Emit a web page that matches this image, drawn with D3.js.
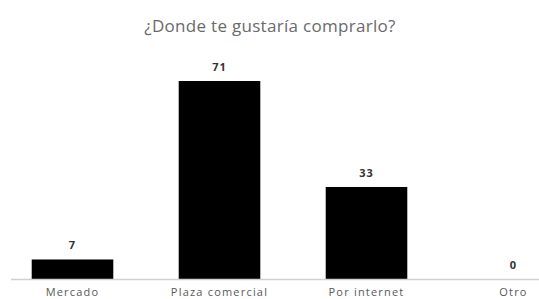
<!DOCTYPE html>
<html>
<head>
<meta charset="utf-8">
<script src="https://cdn.jsdelivr.net/npm/d3@7"></script>
<style>
  body { margin: 0; background: #fff; }
  text { font-family: "Open Sans", sans-serif; }
</style>
</head>
<body>
<div id="chart"></div>
<script>
const categories = ["Mercado", "Plaza comercial", "Por internet", "Otro"];
const values = [7, 71, 33, 0];
const title = "¿Donde te gustaría comprarlo?";

const width = 539, height = 299;
const baseline = 279;

const svg = d3.select("#chart")
  .append("svg")
    .attr("width", width)
    .attr("height", height);

const x = d3.scaleBand()
  .domain(categories)
  .range([-1, 587])
  .paddingInner(0.445)
  .paddingOuter(0.2225);

const y = d3.scaleLinear()
  .domain([0, 71])
  .range([baseline, 81]);

svg.append("text")
  .attr("x", 270)
  .attr("y", 32)
  .attr("text-anchor", "middle")
  .style("font-size", "17px")
  .style("letter-spacing", "0.3px")
  .style("fill", "#6a6a6a")
  .text(title);

svg.selectAll("rect.bar")
  .data(values)
  .enter()
  .append("rect")
    .attr("class", "bar")
    .attr("x", (d, i) => x(categories[i]))
    .attr("width", x.bandwidth())
    .attr("y", d => y(d))
    .attr("height", d => baseline - y(d))
    .attr("fill", "#000");

// axis line
svg.append("line")
  .attr("x1", 11)
  .attr("x2", width)
  .attr("y1", baseline + 0.5)
  .attr("y2", baseline + 0.5)
  .attr("stroke", "#d0d0d0")
  .attr("stroke-width", 1.5);

svg.selectAll("text.val")
  .data(values)
  .enter()
  .append("text")
    .attr("class", "val")
    .attr("x", (d, i) => x(categories[i]) + x.bandwidth() / 2)
    .attr("y", d => y(d) - 10)
    .attr("text-anchor", "middle")
    .style("font-size", "11px")
    .style("font-weight", "bold")
    .style("letter-spacing", "1px")
    .style("fill", "#333")
    .text(d => d);

svg.selectAll("text.cat")
  .data(categories)
  .enter()
  .append("text")
    .attr("class", "cat")
    .attr("x", d => x(d) + x.bandwidth() / 2)
    .attr("y", 296)
    .attr("text-anchor", "middle")
    .style("font-size", "11px")
    .style("letter-spacing", "1.2px")
    .style("fill", "#595959")
    .text(d => d);
</script>
</body>
</html>
